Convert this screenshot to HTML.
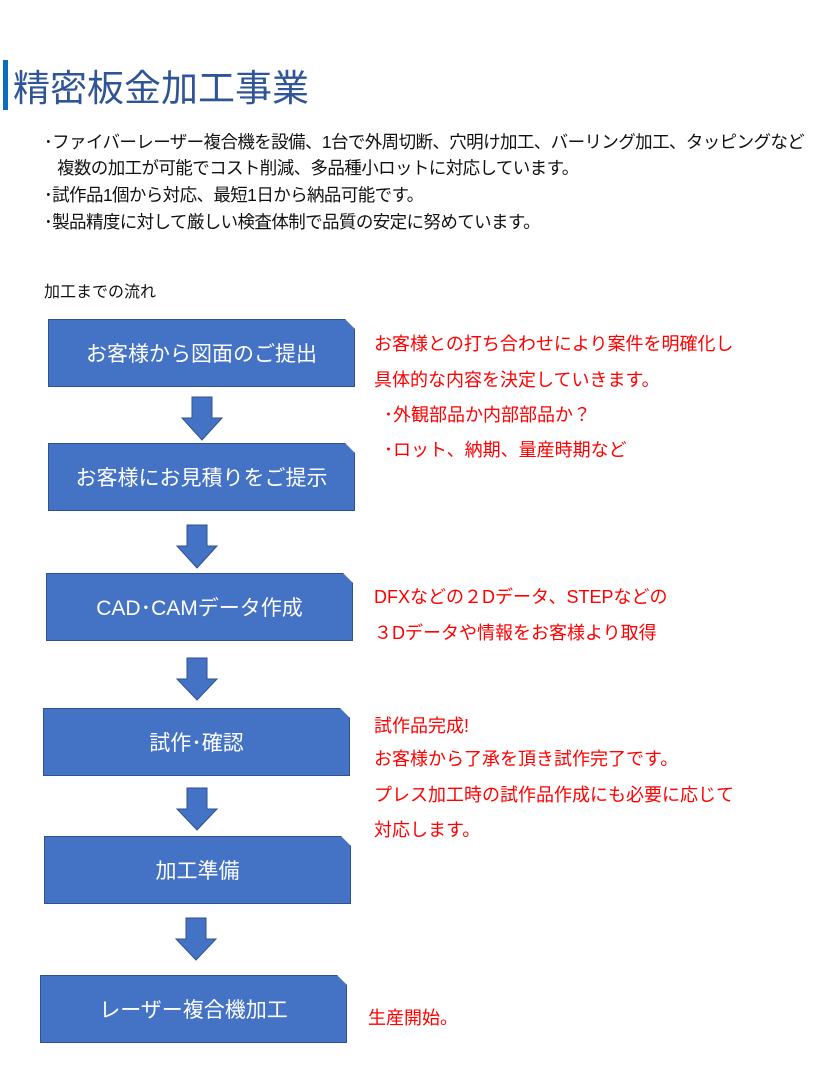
<!DOCTYPE html>
<html><head><meta charset="utf-8"><style>
body{margin:0;width:833px;height:1087px;background:#fff;position:relative;overflow:hidden;font-family:"Liberation Sans","Noto Sans CJK JP",sans-serif;}
.a{position:absolute;white-space:nowrap;}
.bar{position:absolute;left:3px;top:60px;width:5px;height:50px;background:#0b6cc0;}
.t{left:13px;top:58px;font-size:37px;color:#2f5597;}
.b{font-size:17.5px;color:#111;letter-spacing:-0.6px;}
.r{font-size:18px;color:#ff0000;}
.box{position:absolute;width:307px;height:68px;background:#4472c4;border:1px solid #2f528f;box-sizing:border-box;color:#fff;font-size:21px;display:flex;align-items:center;justify-content:center;clip-path:polygon(0 0,297px 0,307px 10px,307px 68px,0 68px);}
svg{position:absolute;}
</style></head><body>
<div class="bar"></div>
<div class="a t">精密板金加工事業</div>
<div class="a b" style="left:44px;top:129px">･ファイバーレーザー複合機を設備、1台で外周切断、穴明け加工、バーリング加工、タッピングなど</div>
<div class="a b" style="left:57px;top:155px">複数の加工が可能でコスト削減、多品種小ロットに対応しています。</div>
<div class="a b" style="left:44px;top:182px">･試作品1個から対応、最短1日から納品可能です。</div>
<div class="a b" style="left:44px;top:209px">･製品精度に対して厳しい検査体制で品質の安定に努めています。</div>
<div class="a" style="left:44px;top:278px;font-size:16px;color:#111">加工までの流れ</div>

<div class="box" style="left:48px;top:319px">お客様から図面のご提出</div>
<div class="box" style="left:48px;top:443px">お客様にお見積りをご提示</div>
<div class="box" style="left:46px;top:573px">CAD･CAMデータ作成</div>
<div class="box" style="left:43px;top:708px">試作･確認</div>
<div class="box" style="left:44px;top:836px">加工準備</div>
<div class="box" style="left:40px;top:975px">レーザー複合機加工</div>

<svg width="833" height="1087" style="left:0;top:0">
<g fill="#4472c4" stroke="#2f528f" stroke-width="1">
<polygon points="192,397 212,397 212,418 222,418 202,440 182,418 192,418"/>
<polygon points="187,525 207,525 207,546 217,546 197,568 177,546 187,546"/>
<polygon points="187,658 207,658 207,679 217,679 197,700 177,679 187,679"/>
<polygon points="187,788 207,788 207,809 217,809 197,830 177,809 187,809"/>
<polygon points="186,918 206,918 206,939 216,939 196,960 176,939 186,939"/>
</g></svg>

<div class="a r" style="left:374px;top:330px">お客様との打ち合わせにより案件を明確化し</div>
<div class="a r" style="left:374px;top:366px">具体的な内容を決定していきます。</div>
<div class="a r" style="left:384px;top:401px">･外観部品か内部部品か？</div>
<div class="a r" style="left:384px;top:436px">･ロット、納期、量産時期など</div>
<div class="a r" style="left:374px;top:583px">DFXなどの２Dデータ、STEPなどの</div>
<div class="a r" style="left:374px;top:619px">３Dデータや情報をお客様より取得</div>
<div class="a r" style="left:374px;top:712px">試作品完成!</div>
<div class="a r" style="left:374px;top:745px">お客様から了承を頂き試作完了です。</div>
<div class="a r" style="left:374px;top:781px">プレス加工時の試作品作成にも必要に応じて</div>
<div class="a r" style="left:374px;top:816px">対応します。</div>
<div class="a r" style="left:368px;top:1004px">生産開始。</div>
</body></html>
